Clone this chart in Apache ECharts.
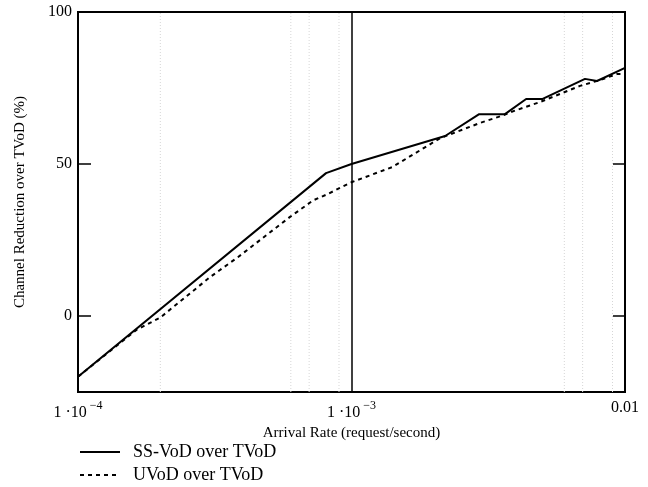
<!DOCTYPE html>
<html>
<head>
<meta charset="utf-8">
<script src="https://cdn.jsdelivr.net/npm/echarts@6/dist/echarts.min.js"></script>
<style>html,body{margin:0;padding:0;background:#fff;}#c{width:648px;height:487px;}</style>
</head>
<body>
<div id="c"></div>
<script>
// Data (x = arrival rate, y = channel reduction %)
const ssX = [1e-4, 8.07e-4, 1e-3, 2.2e-3, 2.93e-3, 3.64e-3, 4.35e-3, 5.0e-3, 7.14e-3, 7.9e-3, 1e-2];
const ssY = [-20, 47, 50, 59.2, 66.4, 66.4, 71.4, 71.4, 78, 77.3, 81.6];
const uX = [1e-4, 1.64e-4, 2.0e-4, 3.04e-4, 3.85e-4, 5.96e-4, 7.23e-4, 8.13e-4, 1e-3, 1.41e-3, 2.11e-3, 2.95e-3, 3.58e-3, 3.8e-3, 4.89e-3, 6.85e-3, 8.1e-3, 9.35e-3, 1e-2];
const uY = [-20, -4.5, -0.5, 12.8, 19.4, 32.6, 38, 40, 44, 49, 58.5, 63.5, 66, 67, 70.4, 75.7, 77.6, 79.6, 79.6];
const faintGridX = [2e-4, 6e-4, 7e-4, 9e-4, 6e-3, 7e-3, 9e-3];
const yRange = [-25, 100];
const yTicks = [0, 50, 100];
const yTicksRight = [0, 50];
const xTickLabels = {"0.0001": "{a|1 ·10}{s|−4}", "0.001": "{a|1 ·10}{s|−3}", "0.01": "{a|0.01}"};
const seriesNames = ["SS-VoD over TVoD", "UVoD over TVoD"];

const font = "'Liberation Serif', 'DejaVu Serif', serif";
const legendBase = {
  orient: 'horizontal', left: 74, itemWidth: 40, itemHeight: 10,
  itemStyle: {color: 'transparent', borderWidth: 0, opacity: 0},
  textStyle: {fontFamily: font, fontSize: 18, color: '#000', padding: [0, 0, 0, 8]}
};
const faintSeries = faintGridX.map((x, i) => ({
  name: 'grid' + i, type: 'line', symbol: 'none', silent: true, z: 1,
  data: [[x, yRange[0]], [x, yRange[1]]],
  lineStyle: {color: '#d6d6d6', width: 1, type: [1, 2]}
}));
const chart = echarts.init(document.getElementById('c'));
chart.setOption({
  animation: false,
  backgroundColor: '#fff',
  textStyle: {fontFamily: font, color: '#000'},
  grid: {left: 78, right: 23, top: 12, bottom: 95, show: true, borderColor: '#000', borderWidth: 2, containLabel: false},
  legend: [
    Object.assign({}, legendBase, {top: 438, data: [seriesNames[0]]}),
    Object.assign({}, legendBase, {top: 461, data: [seriesNames[1]]})
  ],
  xAxis: {
    type: 'log', logBase: 10, min: 1e-4, max: 1e-2,
    name: 'Arrival Rate (request/second)', nameLocation: 'middle', nameGap: 30,
    nameTextStyle: {fontFamily: font, fontSize: 15, color: '#000'},
    axisLine: {show: true, onZero: false, lineStyle: {color: '#000', width: 2}},
    axisTick: {show: false},
    splitLine: {show: true, lineStyle: {color: '#000', width: 1.5}},
    axisLabel: {
      margin: 8, color: '#000', fontFamily: font,
      formatter: function (v) {
        const k = String(+v.toPrecision(3));
        return xTickLabels[k] !== undefined ? xTickLabels[k] : '';
      },
      rich: {
        a: {fontFamily: font, fontSize: 16, color: '#000'},
        s: {fontFamily: font, fontSize: 12, color: '#000', padding: [0, 0, 14, 3]}
      }
    }
  },
  yAxis: [{
    type: 'value', min: yRange[0], max: yRange[1],
    name: 'Channel Reduction over TVoD (%)', nameLocation: 'middle', nameGap: 50,
    nameTextStyle: {fontFamily: font, fontSize: 15, color: '#000'},
    axisLine: {show: true, onZero: false, lineStyle: {color: '#000', width: 2}},
    axisTick: {show: true, inside: true, length: 13, customValues: yTicks, lineStyle: {color: '#000', width: 1.5}},
    axisLabel: {customValues: yTicks, margin: 6, fontFamily: font, fontSize: 16, color: '#000'},
    splitLine: {show: false}
  }, {
    type: 'value', min: yRange[0], max: yRange[1], position: 'right',
    axisLine: {show: true, onZero: false, lineStyle: {color: '#000', width: 2}},
    axisTick: {show: true, inside: true, length: 12, customValues: yTicksRight, lineStyle: {color: '#000', width: 1.5}},
    axisLabel: {show: false},
    splitLine: {show: false}
  }],
  series: faintSeries.concat([{
    name: seriesNames[0], type: 'line', symbol: 'none', yAxisIndex: 0,
    data: ssX.map((x, i) => [x, ssY[i]]),
    lineStyle: {color: '#000', width: 2, type: 'solid'},
    itemStyle: {color: '#000'},
    z: 3
  }, {
    name: seriesNames[1], type: 'line', symbol: 'none', yAxisIndex: 0,
    data: uX.map((x, i) => [x, uY[i]]),
    lineStyle: {color: '#000', width: 2, type: [4, 4]},
    itemStyle: {color: '#000'},
    z: 3
  }])
});
</script>
</body>
</html>
